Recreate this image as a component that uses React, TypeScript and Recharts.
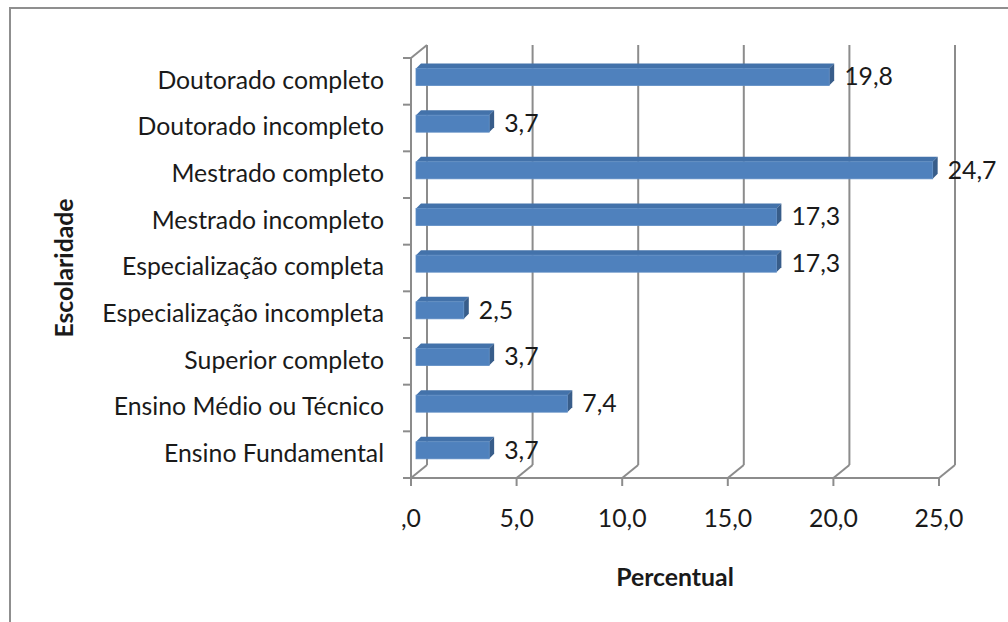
import React from "react";
import {
  BarChart,
  Bar,
  XAxis,
  YAxis,
  CartesianGrid,
  LabelList,
} from "recharts";

const categories = [
  "Doutorado completo",
  "Doutorado incompleto",
  "Mestrado completo",
  "Mestrado incompleto",
  "Especialização completa",
  "Especialização incompleta",
  "Superior completo",
  "Ensino Médio ou Técnico",
  "Ensino Fundamental",
];
const percentual = [19.8, 3.7, 24.7, 17.3, 17.3, 2.5, 3.7, 7.4, 3.7];
const xTicks = [0, 5, 10, 15, 20, 25];

const data = categories.map((name, i) => ({ name, value: percentual[i] }));

const FONT = "Lato, 'Open Sans', sans-serif";
const FONT_SIZE = 24.8;
const GRID = "#8c8c8c";
// depth of the back wall and of each bar (3D look)
const WALL_DX = 16;
const WALL_DY = -13;
const BAR_DX = 5;
const BAR_DY = -5;
const BAR_SHIFT_X = 5;
const BAR_SHIFT_Y = -4.5;

const TOP = 58;
const PLOT_H = 420;
const band = PLOT_H / categories.length;

const fmt = (v: number) => (v === 0 ? ",0" : v.toFixed(1).replace(".", ","));

function Bar3D(props: any) {
  const { x, y, width, height } = props;
  if (!width) return null;
  const fx = x + BAR_SHIFT_X;
  const fy = y + BAR_SHIFT_Y;
  const w = width - BAR_SHIFT_X;
  return (
    <g>
      <polygon
        points={`${fx},${fy} ${fx + BAR_DX},${fy + BAR_DY} ${fx + w + BAR_DX},${fy + BAR_DY} ${fx + w},${fy}`}
        fill="#4372aa"
      />
      <polygon
        points={`${fx + w},${fy} ${fx + w + BAR_DX},${fy + BAR_DY} ${fx + w + BAR_DX},${fy + BAR_DY + height} ${fx + w},${fy + height}`}
        fill="#385d8a"
      />
      <rect x={fx} y={fy} width={w} height={height} fill="#4f81bd" stroke="#5d8cc4" strokeWidth={0.8} />
    </g>
  );
}

function ValueLabel(props: any) {
  const { x, y, width, height, value } = props;
  return (
    <text
      x={x + width + 15}
      y={y + BAR_SHIFT_Y + height / 2 + 2}
      dominantBaseline="middle"
      fontFamily={FONT}
      fontSize={FONT_SIZE}
      fill="#1a1a1a"
    >
      {fmt(value)}
    </text>
  );
}

function CategoryTick(props: any) {
  const { x, y, payload, index } = props;
  const axisX = x + 27;
  return (
    <g>
      <text
        x={x}
        y={y + 1}
        textAnchor="end"
        dominantBaseline="middle"
        fontFamily={FONT}
        fontSize={FONT_SIZE}
        fill="#1a1a1a"
      >
        {payload.value}
      </text>
      <line x1={axisX - 8} y1={y - band / 2} x2={axisX} y2={y - band / 2} stroke={GRID} strokeWidth={2} />
      {index === categories.length - 1 && (
        <line x1={axisX - 8} y1={y + band / 2} x2={axisX} y2={y + band / 2} stroke={GRID} strokeWidth={2} />
      )}
    </g>
  );
}

function WallLine(props: any) {
  const { x1, y1, y2, index } = props;
  return (
    <g>
      <line x1={x1 + WALL_DX} y1={y1 + WALL_DY} x2={x1 + WALL_DX} y2={y2 + WALL_DY} stroke={GRID} strokeWidth={2} />
      <line x1={x1} y1={y2} x2={x1 + WALL_DX} y2={y2 + WALL_DY} stroke={GRID} strokeWidth={2} />
      {index === 0 && (
        <line x1={x1} y1={y1} x2={x1 + WALL_DX} y2={y1 + WALL_DY} stroke={GRID} strokeWidth={2} />
      )}
    </g>
  );
}

export default function App() {
  return (
    <div style={{ position: "absolute", left: 0, top: 0, width: 1008, height: 622, background: "#fff", overflow: "hidden" }}>
      <div
        style={{
          position: "absolute",
          left: 9,
          top: 7,
          width: 1100,
          height: 700,
          borderLeft: "2px solid #8f8f8f",
          borderTop: "2px solid #8f8f8f",
        }}
      />
      <BarChart
        width={1008}
        height={622}
        data={data}
        layout="vertical"
        margin={{ top: TOP, right: 69, bottom: 0, left: 0 }}
        barSize={17}
        style={{ position: "absolute", left: 0, top: 0 }}
      >
        <CartesianGrid horizontal={false} vertical={(p: any) => <WallLine key={p.key} {...p} />} stroke={GRID} />
        <XAxis
          type="number"
          domain={[0, 25]}
          ticks={xTicks}
          tickFormatter={fmt}
          height={144}
          tickSize={8}
          tickMargin={23}
          axisLine={{ stroke: GRID, strokeWidth: 2 }}
          tickLine={{ stroke: GRID, strokeWidth: 2 }}
          tick={{ fontFamily: FONT, fontSize: FONT_SIZE, fill: "#1a1a1a" }}
          label={{
            value: "Percentual",
            position: "insideBottom",
            offset: 36,
            fontFamily: FONT,
            fontSize: FONT_SIZE,
            fontWeight: 700,
            fill: "#1a1a1a",
          }}
        />
        <YAxis
          type="category"
          dataKey="name"
          width={411}
          tickSize={0}
          tickMargin={27}
          tickLine={false}
          axisLine={{ stroke: GRID, strokeWidth: 2 }}
          tick={(p: any) => <CategoryTick {...p} />}
          interval={0}
          label={{
            value: "Escolaridade",
            angle: -90,
            position: "insideLeft",
            offset: 64,
            fontFamily: FONT,
            fontSize: FONT_SIZE,
            fontWeight: 700,
            fill: "#1a1a1a",
            style: { textAnchor: "middle" },
          }}
        />
        <Bar dataKey="value" shape={(p: any) => <Bar3D {...p} />} isAnimationActive={false}>
          <LabelList dataKey="value" content={(p: any) => <ValueLabel {...p} />} />
        </Bar>
      </BarChart>
    </div>
  );
}
